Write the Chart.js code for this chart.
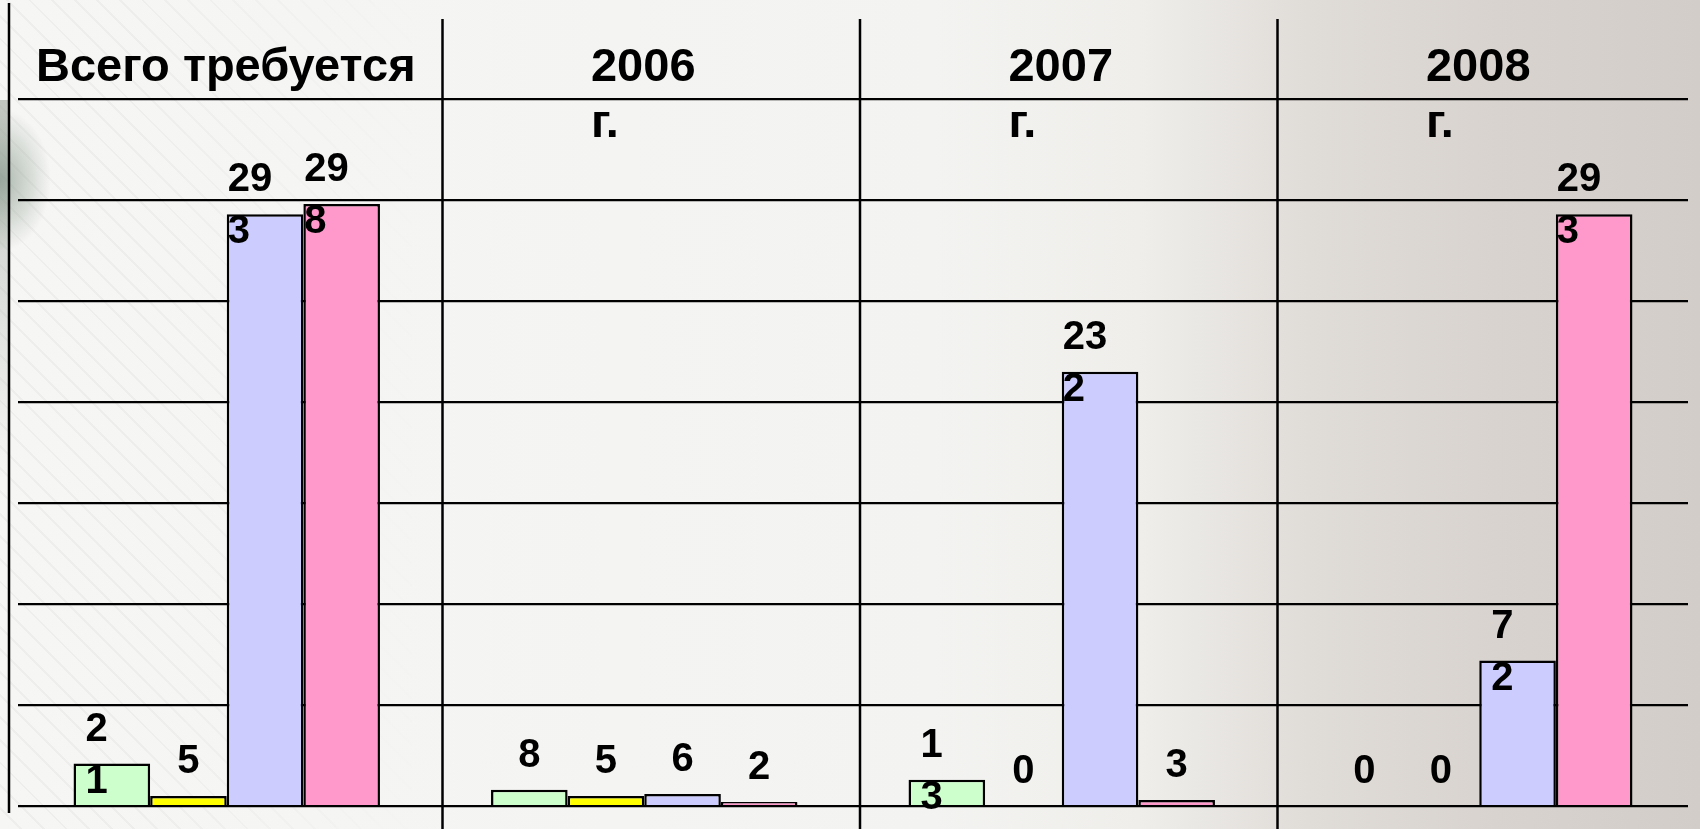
<!DOCTYPE html>
<html lang="ru">
<head>
<meta charset="utf-8">
<title>Всего требуется</title>
<script src="https://cdn.jsdelivr.net/npm/chart.js@4.4.1/dist/chart.umd.min.js"></script>
<style>
    html, body { margin: 0; padding: 0; }
    body {
        width: 1700px; height: 829px; overflow: hidden; position: relative;
        background: linear-gradient(90deg, #f6f6f5 0%, #f3f3f1 55%, #efeeeb 67%, #e0dcd8 77%, #d8d3ce 88%, #d2cdc8 100%);
    }
    .texture {
        position: absolute; left: 0; top: 0; width: 430px; height: 829px;
        background: repeating-linear-gradient(45deg, rgba(0,0,0,0) 0 14px, rgba(0,0,0,0.03) 14px 16px);
        -webkit-mask-image: linear-gradient(90deg, #000 0%, #000 30%, transparent 100%);
        mask-image: linear-gradient(90deg, #000 0%, #000 30%, transparent 100%);
    }
    .blob {
        position: absolute; left: 0; top: 110px; width: 50px; height: 140px;
        background: radial-gradient(ellipse at 0% 50%, rgba(120,140,125,0.6) 0%, rgba(150,165,150,0.3) 45%, rgba(255,255,255,0) 72%);
    }
    .strip {
        position: absolute; left: 0; top: 100px; width: 8px; height: 380px;
        background: linear-gradient(180deg, rgba(140,150,140,0.5), rgba(160,160,160,0));
    }
    .wrap { position: absolute; left: 0; top: 0; width: 1700px; height: 829px; }
</style>
</head>
<body>
<div class="texture"></div>
<div class="strip"></div>
<div class="blob"></div>
<div class="wrap"><canvas id="needChart"></canvas></div>
<script>
// categories (header cells, already broken into lines as on the slide)
const categories = [['Всего требуется'], ['2006', 'г.'], ['2007', 'г.'], ['2008', 'г.']];
const greenValues = [21, 8, 13, 0];
const yellowValues = [5, 5, 0, 0];
const blueValues = [293, 6, 215, 72];    // bar heights as drawn
const blueLabels = [293, 6, 232, 72];    // numbers printed on the slide
const pinkValues = [298, 2, 3, 293];
const yTicks = [0, 50, 100, 150, 200, 250, 300, 350];

const FONT = '"Liberation Sans", Arial, sans-serif';

// last digit of a number goes to a second line, as in the narrow label boxes
function splitValue(v) {
    const s = String(v);
    return s.length > 1 ? [s.slice(0, -1), s.slice(-1)] : [s];
}

// value labels above bars
const valueLabels = {
    id: 'valueLabels',
    afterDatasetsDraw(chart) {
        const ctx = chart.ctx;
        ctx.save();
        ctx.font = 'bold 40px ' + FONT;
        ctx.fillStyle = '#000';
        ctx.textBaseline = 'alphabetic';
        chart.data.datasets.forEach((ds, i) => {
            const printed = ds.printed || ds.data;
            chart.getDatasetMeta(i).data.forEach((bar, j) => {
                const lines = splitValue(printed[j]);
                const y = bar.y - 23;
                if (lines.length === 1) {
                    ctx.textAlign = 'center';
                    ctx.fillText(lines[0], bar.x, y);
                } else {
                    const full = ctx.measureText(String(printed[j])).width;
                    ctx.textAlign = 'left';
                    lines.forEach((t, k) => ctx.fillText(t, bar.x - full / 2 - 4, y + k * 52));
                }
            });
        });
        ctx.restore();
    }
};

// table lines and header cells
const tableHeader = {
    id: 'tableHeader',
    afterDraw(chart) {
        const ctx = chart.ctx;
        const area = chart.chartArea;
        const x = chart.scales.x;
        ctx.save();
        ctx.strokeStyle = '#000';
        ctx.lineWidth = 2.5;

        // left border
        ctx.beginPath();
        ctx.moveTo(area.left - 9, 3);
        ctx.lineTo(area.left - 9, area.bottom + 7);
        ctx.stroke();

        // column borders
        for (let i = 1; i < categories.length; i++) {
            const bx = (x.getPixelForValue(i - 1) + x.getPixelForValue(i)) / 2 + 7;
            ctx.beginPath();
            ctx.moveTo(bx, area.top - 80);
            ctx.lineTo(bx, chart.height);
            ctx.stroke();
        }

        // header text
        ctx.font = 'bold 47px ' + FONT;
        ctx.fillStyle = '#000';
        ctx.textAlign = 'left';
        ctx.textBaseline = 'alphabetic';
        categories.forEach((lines, i) => {
            const cx = x.getPixelForValue(i);
            const w = Math.max(...lines.map(t => ctx.measureText(t).width));
            lines.forEach((t, k) => ctx.fillText(t, cx - w / 2 - 1, area.top - 18 + k * 56));
        });
        ctx.restore();
    }
};

const ctx = document.getElementById('needChart').getContext('2d');
const needChart = new Chart(ctx, {
    type: 'bar',
    data: {
        labels: categories,
        datasets: [
            { label: 'Ряд 1', data: greenValues, backgroundColor: '#ccffcc' },
            { label: 'Ряд 2', data: yellowValues, backgroundColor: '#ffff00' },
            { label: 'Ряд 3', data: blueValues, printed: blueLabels, backgroundColor: '#ccccff' },
            { label: 'Ряд 4', data: pinkValues, backgroundColor: '#ff99cc' }
        ].map(d => Object.assign(d, { borderColor: '#000', borderWidth: 2.5 }))
    },
    options: {
        responsive: true,
        maintainAspectRatio: false,
        animation: false,
        layout: { padding: { left: 18, right: 12, top: 99, bottom: 23 } },
        datasets: { bar: { categoryPercentage: 0.734, barPercentage: 1 } },
        plugins: {
            legend: { display: false },
            tooltip: { enabled: false }
        },
        scales: {
            x: { display: false },
            y: {
                min: yTicks[0],
                max: yTicks[yTicks.length - 1],
                ticks: { display: false, stepSize: yTicks[1] - yTicks[0] },
                border: { display: false },
                grid: { color: '#000', lineWidth: 2.2, drawTicks: false }
            }
        }
    },
    plugins: [valueLabels, tableHeader]
});
</script>
</body>
</html>
